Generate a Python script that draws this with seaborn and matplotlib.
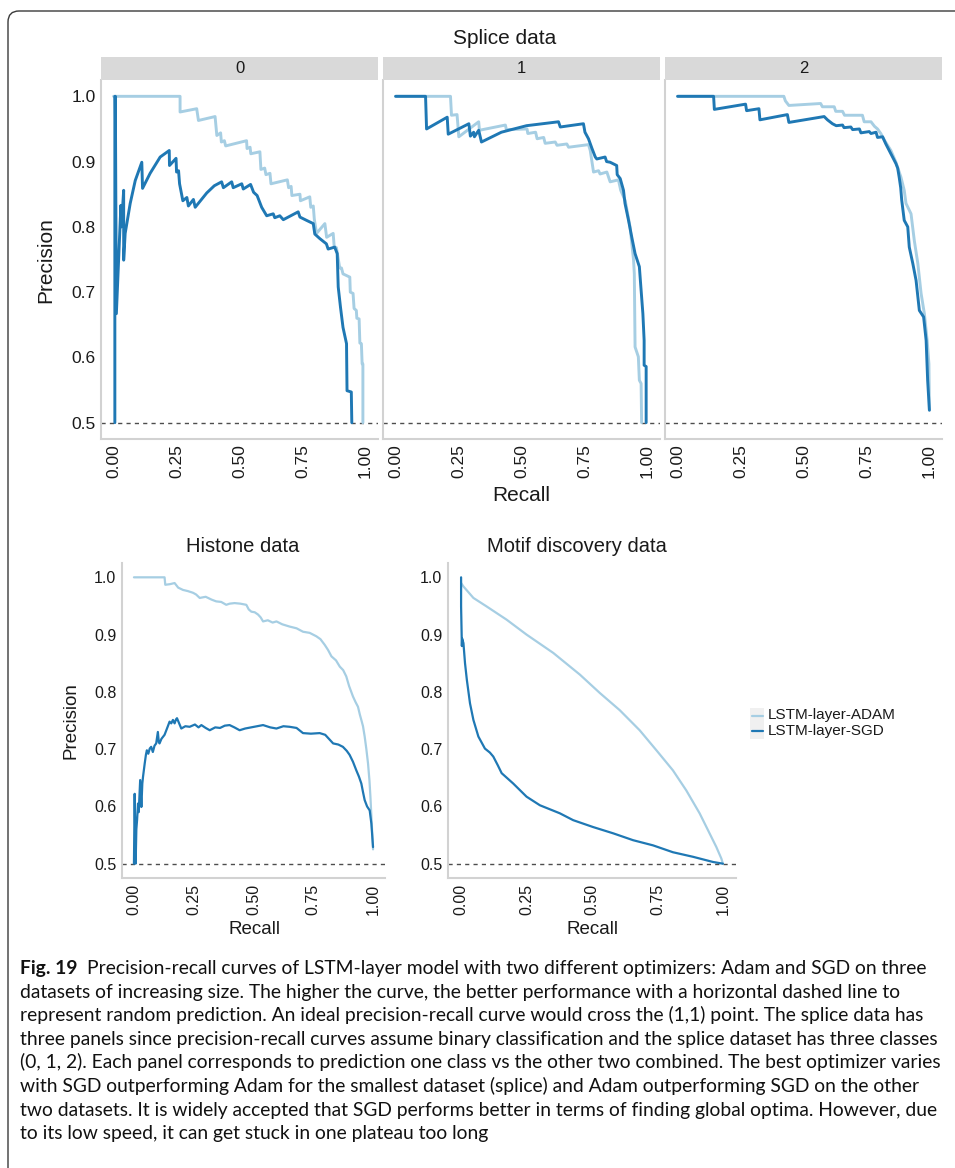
import numpy as np
import pandas as pd
import matplotlib
matplotlib.use("Agg")
import matplotlib.pyplot as plt
from matplotlib import font_manager
from matplotlib.patches import FancyBboxPatch, Rectangle
from matplotlib.lines import Line2D
import seaborn as sns

# ---------------------------------------------------------------- data
OPTIMIZERS = ["LSTM-layer-ADAM", "LSTM-layer-SGD"]
PALETTE = {"LSTM-layer-ADAM": "#a6cee3", "LSTM-layer-SGD": "#1f78b4"}

SPLICE_CLASSES = ["0", "1", "2"]
XTICKS = [0.0, 0.25, 0.5, 0.75, 1.0]
XTICK_LABELS = ["0.00", "0.25", "0.50", "0.75", "1.00"]
YTICKS = [0.5, 0.6, 0.7, 0.8, 0.9, 1.0]
YTICK_LABELS = ["0.5", "0.6", "0.7", "0.8", "0.9", "1.0"]
RANDOM_BASELINE = 0.5

# splice, class 0
SPLICE0_ADAM_R = [0.000, 0.264, 0.264, 0.330, 0.337, 0.403, 0.410, 0.425, 0.428, 0.440, 0.445,
                  0.528, 0.530, 0.542, 0.545, 0.581, 0.585, 0.600, 0.605, 0.621, 0.625, 0.690,
                  0.695, 0.705, 0.708, 0.740, 0.742, 0.779, 0.783, 0.793, 0.797, 0.806, 0.839,
                  0.846, 0.872, 0.876, 0.885, 0.898, 0.905, 0.911, 0.938, 0.940, 0.951, 0.955,
                  0.964, 0.966, 0.975, 0.978, 0.984, 0.987, 0.990, 0.990]
SPLICE0_ADAM_P = [1.000, 1.000, 0.976, 0.981, 0.963, 0.969, 0.940, 0.944, 0.930, 0.932, 0.924,
                  0.932, 0.920, 0.922, 0.912, 0.915, 0.888, 0.890, 0.880, 0.882, 0.866, 0.872,
                  0.860, 0.862, 0.848, 0.850, 0.840, 0.846, 0.830, 0.832, 0.812, 0.790, 0.805,
                  0.784, 0.790, 0.770, 0.768, 0.737, 0.737, 0.728, 0.723, 0.700, 0.698, 0.675,
                  0.672, 0.660, 0.659, 0.622, 0.621, 0.590, 0.590, 0.500]
SPLICE0_SGD_R = [0.005, 0.005, 0.007, 0.011, 0.029, 0.031, 0.040, 0.040, 0.046, 0.066, 0.086,
                 0.112, 0.115, 0.145, 0.185, 0.221, 0.222, 0.248, 0.250, 0.258, 0.262, 0.275,
                 0.291, 0.297, 0.317, 0.324, 0.370, 0.400, 0.429, 0.436, 0.469, 0.475, 0.509,
                 0.515, 0.544, 0.556, 0.570, 0.588, 0.608, 0.634, 0.640, 0.660, 0.674, 0.733,
                 0.740, 0.766, 0.793, 0.799, 0.819, 0.845, 0.852, 0.878, 0.888, 0.892, 0.901,
                 0.911, 0.925, 0.927, 0.944, 0.946]
SPLICE0_SGD_P = [0.500, 1.000, 1.000, 0.667, 0.833, 0.800, 0.856, 0.749, 0.790, 0.836, 0.871,
                 0.899, 0.859, 0.882, 0.907, 0.917, 0.894, 0.905, 0.884, 0.886, 0.866, 0.840,
                 0.845, 0.832, 0.842, 0.830, 0.852, 0.863, 0.869, 0.860, 0.869, 0.860, 0.866,
                 0.858, 0.865, 0.853, 0.848, 0.830, 0.817, 0.820, 0.814, 0.817, 0.811, 0.823,
                 0.815, 0.810, 0.805, 0.789, 0.782, 0.774, 0.766, 0.769, 0.759, 0.708, 0.677,
                 0.646, 0.621, 0.549, 0.547, 0.500]

# splice, class 1
SPLICE1_ADAM_R = [0.000, 0.218, 0.222, 0.244, 0.247, 0.251, 0.330, 0.333, 0.436, 0.440, 0.522,
                  0.525, 0.556, 0.562, 0.588, 0.594, 0.634, 0.641, 0.680, 0.687, 0.766, 0.773,
                  0.786, 0.806, 0.812, 0.839, 0.852, 0.885, 0.894, 0.912, 0.931, 0.945, 0.948,
                  0.951, 0.964, 0.968, 0.975, 0.977]
SPLICE1_ADAM_P = [1.000, 1.000, 0.971, 0.972, 0.958, 0.938, 0.961, 0.948, 0.956, 0.949, 0.950,
                  0.943, 0.945, 0.935, 0.937, 0.928, 0.930, 0.925, 0.927, 0.922, 0.926, 0.917,
                  0.884, 0.886, 0.881, 0.884, 0.869, 0.872, 0.856, 0.840, 0.800, 0.749, 0.728,
                  0.616, 0.601, 0.565, 0.560, 0.500]
SPLICE1_SGD_R = [0.000, 0.119, 0.123, 0.205, 0.209, 0.291, 0.297, 0.310, 0.313, 0.330, 0.341,
                 0.420, 0.520, 0.647, 0.654, 0.746, 0.752, 0.766, 0.780, 0.793, 0.799, 0.832,
                 0.838, 0.852, 0.878, 0.880, 0.892, 0.905, 0.911, 0.925, 0.938, 0.951, 0.968,
                 0.974, 0.982, 0.987, 0.987, 0.995, 0.995]
SPLICE1_SGD_P = [1.000, 1.000, 0.950, 0.968, 0.942, 0.958, 0.939, 0.945, 0.938, 0.948, 0.930,
                 0.945, 0.955, 0.961, 0.953, 0.958, 0.945, 0.935, 0.920, 0.907, 0.904, 0.907,
                 0.900, 0.899, 0.894, 0.880, 0.874, 0.856, 0.836, 0.810, 0.784, 0.759, 0.739,
                 0.708, 0.667, 0.626, 0.588, 0.586, 0.500]

# splice, class 2
SPLICE2_ADAM_R = [0.000, 0.422, 0.428, 0.442, 0.568, 0.575, 0.622, 0.628, 0.655, 0.663, 0.734,
                  0.741, 0.768, 0.782, 0.794, 0.807, 0.821, 0.847, 0.867, 0.887, 0.900, 0.907,
                  0.927, 0.940, 0.954, 0.967, 0.980, 0.991, 0.998, 1.000]
SPLICE2_ADAM_P = [1.000, 1.000, 0.993, 0.986, 0.989, 0.984, 0.984, 0.977, 0.977, 0.971, 0.971,
                  0.961, 0.961, 0.954, 0.950, 0.943, 0.933, 0.917, 0.899, 0.876, 0.856, 0.836,
                  0.820, 0.779, 0.744, 0.698, 0.667, 0.626, 0.590, 0.520]
SPLICE2_SGD_R = [0.000, 0.143, 0.146, 0.270, 0.274, 0.323, 0.327, 0.436, 0.442, 0.582, 0.595,
                 0.615, 0.630, 0.655, 0.661, 0.688, 0.695, 0.722, 0.728, 0.761, 0.768, 0.788,
                 0.794, 0.814, 0.827, 0.847, 0.867, 0.874, 0.880, 0.886, 0.890, 0.900, 0.914,
                 0.920, 0.934, 0.947, 0.960, 0.977, 0.987, 0.993, 1.000]
SPLICE2_SGD_P = [1.000, 1.000, 0.980, 0.988, 0.978, 0.981, 0.964, 0.972, 0.960, 0.969, 0.964,
                 0.958, 0.955, 0.956, 0.952, 0.953, 0.949, 0.950, 0.944, 0.946, 0.943, 0.945,
                 0.937, 0.938, 0.927, 0.912, 0.897, 0.890, 0.876, 0.860, 0.841, 0.810, 0.800,
                 0.769, 0.744, 0.718, 0.672, 0.662, 0.626, 0.565, 0.519]

# histone
HISTONE_ADAM_R = [0.000, 0.128, 0.131, 0.150, 0.170, 0.185, 0.205, 0.225, 0.247, 0.260, 0.275,
                  0.300, 0.325, 0.344, 0.365, 0.386, 0.400, 0.421, 0.445, 0.470, 0.480, 0.491,
                  0.505, 0.519, 0.530, 0.540, 0.560, 0.580, 0.596, 0.620, 0.651, 0.680, 0.707,
                  0.735, 0.763, 0.780, 0.798, 0.812, 0.826, 0.845, 0.861, 0.875, 0.888, 0.900,
                  0.916, 0.927, 0.937, 0.945, 0.951, 0.958, 0.965, 0.972, 0.979, 0.985, 0.989,
                  0.996, 1.000]
HISTONE_ADAM_P = [1.000, 1.000, 0.987, 0.988, 0.990, 0.982, 0.978, 0.976, 0.973, 0.970, 0.964,
                  0.966, 0.961, 0.958, 0.957, 0.952, 0.954, 0.955, 0.954, 0.952, 0.944, 0.940,
                  0.939, 0.935, 0.930, 0.923, 0.925, 0.921, 0.923, 0.918, 0.914, 0.911, 0.905,
                  0.903, 0.897, 0.892, 0.882, 0.873, 0.862, 0.855, 0.844, 0.838, 0.827, 0.810,
                  0.792, 0.782, 0.774, 0.760, 0.751, 0.740, 0.722, 0.700, 0.675, 0.645, 0.617,
                  0.558, 0.525]
HISTONE_SGD_R = [0.000, 0.003, 0.007, 0.010, 0.013, 0.017, 0.020, 0.026, 0.031, 0.035, 0.038,
                 0.045, 0.050, 0.054, 0.060, 0.066, 0.072, 0.079, 0.086, 0.093, 0.100, 0.104,
                 0.107, 0.115, 0.128, 0.140, 0.149, 0.156, 0.163, 0.170, 0.176, 0.180, 0.190,
                 0.198, 0.215, 0.233, 0.255, 0.270, 0.282, 0.300, 0.317, 0.340, 0.360, 0.380,
                 0.400, 0.420, 0.442, 0.465, 0.490, 0.515, 0.540, 0.570, 0.596, 0.625, 0.651,
                 0.680, 0.707, 0.740, 0.777, 0.800, 0.833, 0.855, 0.874, 0.890, 0.902, 0.916,
                 0.930, 0.941, 0.951, 0.958, 0.965, 0.975, 0.986, 0.993, 1.000]
HISTONE_SGD_P = [0.500, 0.622, 0.500, 0.560, 0.576, 0.605, 0.590, 0.646, 0.599, 0.640, 0.652,
                 0.675, 0.690, 0.698, 0.692, 0.701, 0.704, 0.695, 0.706, 0.710, 0.730, 0.712,
                 0.710, 0.718, 0.725, 0.738, 0.748, 0.745, 0.751, 0.745, 0.752, 0.754, 0.744,
                 0.736, 0.740, 0.739, 0.743, 0.738, 0.742, 0.737, 0.733, 0.738, 0.737, 0.741,
                 0.742, 0.738, 0.733, 0.736, 0.738, 0.740, 0.742, 0.738, 0.736, 0.740, 0.739,
                 0.737, 0.728, 0.727, 0.728, 0.725, 0.710, 0.708, 0.704, 0.697, 0.690, 0.678,
                 0.663, 0.652, 0.640, 0.625, 0.611, 0.600, 0.593, 0.570, 0.529]

# motif discovery
MOTIF_ADAM_R = [0.000, 0.009, 0.047, 0.098, 0.174, 0.250, 0.352, 0.454, 0.530, 0.606, 0.682,
                0.746, 0.809, 0.860, 0.911, 0.949, 0.975, 0.994, 1.000]
MOTIF_ADAM_P = [0.990, 0.984, 0.964, 0.949, 0.926, 0.900, 0.868, 0.830, 0.798, 0.768, 0.733,
                0.698, 0.663, 0.628, 0.588, 0.553, 0.529, 0.509, 0.500]
MOTIF_SGD_R = [0.000, 0.000, 0.003, 0.004, 0.009, 0.015, 0.022, 0.034, 0.047, 0.066, 0.091,
               0.110, 0.123, 0.140, 0.155, 0.199, 0.250, 0.301, 0.377, 0.428, 0.504, 0.581,
               0.657, 0.733, 0.809, 0.886, 0.962, 1.000]
MOTIF_SGD_P = [1.000, 0.949, 0.880, 0.893, 0.885, 0.850, 0.821, 0.780, 0.751, 0.722, 0.701,
               0.694, 0.687, 0.672, 0.658, 0.640, 0.617, 0.602, 0.588, 0.576, 0.564, 0.553,
               0.541, 0.532, 0.520, 0.512, 0.503, 0.500]

CURVES = {
    ("splice0", "LSTM-layer-ADAM"): (SPLICE0_ADAM_R, SPLICE0_ADAM_P),
    ("splice0", "LSTM-layer-SGD"): (SPLICE0_SGD_R, SPLICE0_SGD_P),
    ("splice1", "LSTM-layer-ADAM"): (SPLICE1_ADAM_R, SPLICE1_ADAM_P),
    ("splice1", "LSTM-layer-SGD"): (SPLICE1_SGD_R, SPLICE1_SGD_P),
    ("splice2", "LSTM-layer-ADAM"): (SPLICE2_ADAM_R, SPLICE2_ADAM_P),
    ("splice2", "LSTM-layer-SGD"): (SPLICE2_SGD_R, SPLICE2_SGD_P),
    ("histone", "LSTM-layer-ADAM"): (HISTONE_ADAM_R, HISTONE_ADAM_P),
    ("histone", "LSTM-layer-SGD"): (HISTONE_SGD_R, HISTONE_SGD_P),
    ("motif", "LSTM-layer-ADAM"): (MOTIF_ADAM_R, MOTIF_ADAM_P),
    ("motif", "LSTM-layer-SGD"): (MOTIF_SGD_R, MOTIF_SGD_P),
}

CAPTION_LEAD = "Fig. 19"
CAPTION_LINES = [
    "Precision-recall curves of LSTM-layer model with two different optimizers: Adam and SGD on three",
    "datasets of increasing size. The higher the curve, the better performance with a horizontal dashed line to",
    "represent random prediction. An ideal precision-recall curve would cross the (1,1) point. The splice data has",
    "three panels since precision-recall curves assume binary classification and the splice dataset has three classes",
    "(0, 1, 2). Each panel corresponds to prediction one class vs the other two combined. The best optimizer varies",
    "with SGD outperforming Adam for the smallest dataset (splice) and Adam outperforming SGD on the other",
    "two datasets. It is widely accepted that SGD performs better in terms of finding global optima. However, due",
    "to its low speed, it can get stuck in one plateau too long",
]

rows = []
for (panel, opt), (rec, prec) in CURVES.items():
    for r, p in zip(rec, prec):
        rows.append({"panel": panel, "optimizer": opt, "recall": r, "precision": p})
df = pd.DataFrame(rows)

# ---------------------------------------------------------------- figure
W, H = 955, 1168
sns.set_theme(style="white")
plt.rcParams["font.family"] = ["Liberation Sans", "DejaVu Sans"]
TXT = "#1a1a1a"

fig = plt.figure(figsize=(W / 100, H / 100), dpi=100)
fig.patch.set_facecolor("white")


def px_axes(x0, y0, x1, y1):
    return fig.add_axes([x0 / W, 1 - y1 / H, (x1 - x0) / W, (y1 - y0) / H])


def ftext(x, y, s, **kw):
    return fig.text(x / W, 1 - y / H, s, **kw)


def draw_panel(ax, key, lw, tick_fs, ylabels=True, yticks=True):
    ax.axhline(RANDOM_BASELINE, ls=(0, (3, 3)), color="#4d4d4d", lw=1.0, zorder=1)
    sns.lineplot(data=df[df["panel"] == key], x="recall", y="precision",
                 hue="optimizer", hue_order=OPTIMIZERS, palette=PALETTE,
                 sort=False, estimator=None, legend=False, linewidth=lw, ax=ax)
    ax.set_xlim(-0.05, 1.05)
    ax.set_ylim(0.475, 1.025)
    ax.set_xlabel("")
    ax.set_ylabel("")
    ax.set_facecolor("white")
    for s in ("top", "right"):
        ax.spines[s].set_visible(False)
    for s in ("left", "bottom"):
        ax.spines[s].set_color("#d2d2d2")
        ax.spines[s].set_linewidth(1.5)
    ax.set_xticks(XTICKS)
    ax.set_xticklabels(XTICK_LABELS, rotation=90)
    ax.set_yticks(YTICKS)
    ax.set_yticklabels(YTICK_LABELS if ylabels else [])
    ax.tick_params(axis="both", length=2.5, width=0.8, color="#444444",
                   labelsize=tick_fs, labelcolor=TXT, pad=1.5)
    if not yticks:
        ax.tick_params(axis="y", length=0)


# ---- splice facets
SPLICE_X = [(101, 378), (383, 660), (665, 942)]
for i, (cls, (x0, x1)) in enumerate(zip(SPLICE_CLASSES, SPLICE_X)):
    ax = px_axes(x0, 80, x1, 439)
    draw_panel(ax, f"splice{cls}", lw=2.1, tick_fs=12.5, ylabels=(i == 0), yticks=(i == 0))
    strip = px_axes(x0, 57, x1, 80)
    strip.set_facecolor("#d9d9d9")
    strip.set_xticks([])
    strip.set_yticks([])
    for s in strip.spines.values():
        s.set_visible(False)
    strip.text(0.5, 0.5, cls, ha="center", va="center", fontsize=12,
               color=TXT, transform=strip.transAxes)

ftext(505, 38, "Splice data", ha="center", va="center", fontsize=15, color=TXT)
ftext(521, 496, "Recall", ha="center", va="center", fontsize=15, color=TXT)
ftext(46, 260, "Precision", ha="center", va="center", rotation=90, fontsize=15, color=TXT)

# ---- histone
ax_h = px_axes(122, 563, 385, 878)
draw_panel(ax_h, "histone", lw=1.6, tick_fs=11.5)
ftext(243, 547, "Histone data", ha="center", va="center", fontsize=14.5, color=TXT)
ftext(254, 930, "Recall", ha="center", va="center", fontsize=13.5, color=TXT)
ftext(71, 721, "Precision", ha="center", va="center", rotation=90, fontsize=13.5, color=TXT)

# ---- motif discovery
ax_m = px_axes(448, 563, 736, 878)
draw_panel(ax_m, "motif", lw=1.6, tick_fs=11.5)
ftext(577, 547, "Motif discovery data", ha="center", va="center", fontsize=14.5, color=TXT)
ftext(592, 930, "Recall", ha="center", va="center", fontsize=13.5, color=TXT)

# ---- legend
fig.add_artist(Rectangle((750 / W, 1 - 739 / H), 14 / W, 31 / H,
                         transform=fig.transFigure, facecolor="#f0f0f0", edgecolor="none"))
for opt, yy in zip(OPTIMIZERS, (715.5, 731)):
    fig.add_artist(Line2D([752 / W, 763 / W], [1 - yy / H, 1 - yy / H],
                          transform=fig.transFigure, color=PALETTE[opt], lw=1.6))
    ftext(768, yy, opt, ha="left", va="center", fontsize=11, color=TXT)

# ---- outer frame
fig.add_artist(FancyBboxPatch((0.08, -0.3), 9.9, 11.57 + 0.3,
                              boxstyle="round,pad=0,rounding_size=0.11",
                              transform=fig.dpi_scale_trans, facecolor="none",
                              edgecolor="#3a3a3a", lw=1.0))

# ---- caption
installed = {f.name for f in font_manager.fontManager.ttflist}
cap_family = next((c for c in ["Liberation Sans Narrow", "Lato", "Liberation Sans"]
                   if c in installed), "DejaVu Sans")
renderer = fig.canvas.get_renderer()


def text_width(s, size, weight="normal"):
    t = fig.text(0, 0, s, fontsize=size, family=cap_family, fontweight=weight)
    w = t.get_window_extent(renderer=renderer).width
    t.remove()
    return w


CAP_X0, CAP_X1, CAP_GAP = 20, 927, 9
base = 10.0
w_line1 = text_width(CAPTION_LEAD, base, "bold") + text_width(CAPTION_LINES[0], base)
cap_size = base * (CAP_X1 - CAP_X0 - CAP_GAP) / w_line1
lead_w = text_width(CAPTION_LEAD, cap_size, "bold")

for i, line in enumerate(CAPTION_LINES):
    yb = 974 + i * 23.6
    x = CAP_X0
    if i == 0:
        ftext(CAP_X0, yb, CAPTION_LEAD, ha="left", va="baseline", fontsize=cap_size,
              family=cap_family, fontweight="bold", color="#111111")
        x = CAP_X0 + lead_w + CAP_GAP
    ftext(x, yb, line, ha="left", va="baseline", fontsize=cap_size,
          family=cap_family, color="#111111")

fig.savefig("out.png", dpi=100, facecolor="white")
